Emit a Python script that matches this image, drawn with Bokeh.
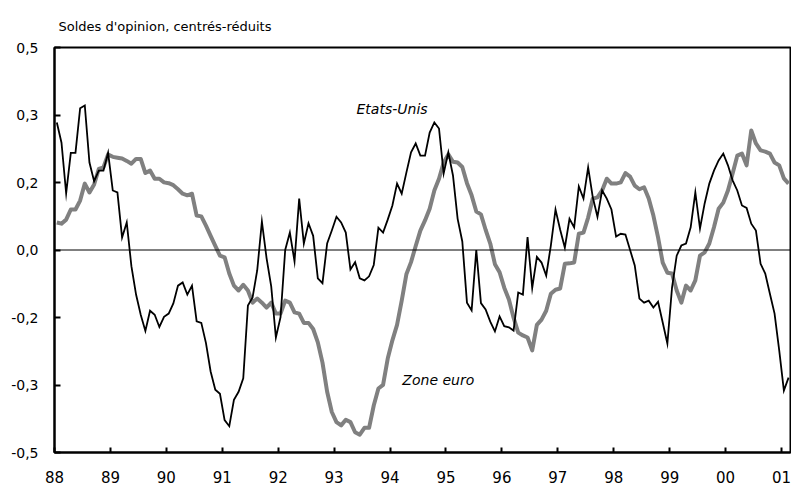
from bokeh.plotting import figure
from bokeh.models import Range1d, FixedTicker, Span, Label, ColumnDataSource
from bokeh.embed import file_html
from bokeh.resources import INLINE

# ---- data (monthly, Jan 1988 .. Feb 2001) ----
start_year = 1988
etats_unis = [
    0.315, 0.265, 0.14, 0.24, 0.24, 0.35, 0.357, 0.216, 0.17, 0.196, 0.196, 0.24,        # 1988
    0.147, 0.142, 0.031, 0.068, -0.04, -0.11, -0.16, -0.20, -0.15, -0.16, -0.19, -0.165,  # 1989
    -0.157, -0.132, -0.088, -0.08, -0.11, -0.088, -0.176, -0.18, -0.23, -0.30, -0.345, -0.355,  # 1990
    -0.42, -0.435, -0.37, -0.35, -0.317, -0.137, -0.117, -0.05, 0.07, -0.02, -0.09, -0.216,  # 1991
    -0.166, 0.0, 0.043, -0.028, 0.127, 0.016, 0.066, 0.035, -0.07, -0.082, 0.016, 0.048,  # 1992
    0.082, 0.068, 0.043, -0.048, -0.03, -0.07, -0.075, -0.065, -0.037, 0.055, 0.043, 0.075,  # 1993
    0.11, 0.164, 0.139, 0.191, 0.241, 0.263, 0.233, 0.233, 0.29, 0.315, 0.3, 0.189,  # 1994
    0.241, 0.184, 0.077, 0.021, -0.13, -0.149, 0.0, -0.131, -0.147, -0.177, -0.201, -0.164,  # 1995
    -0.188, -0.191, -0.199, -0.105, -0.11, 0.032, -0.094, -0.017, -0.031, -0.063, 0.011, 0.1,  # 1996
    0.05, 0.006, 0.077, 0.056, 0.157, 0.127, 0.204, 0.13, 0.082, 0.147, 0.127, 0.1,  # 1997
    0.033, 0.04, 0.038, 0.0, -0.038, -0.12, -0.13, -0.125, -0.142, -0.128, -0.179, -0.231,  # 1998
    -0.093, -0.014, 0.011, 0.016, 0.056, 0.142, 0.053, 0.115, 0.164, 0.196, 0.221, 0.238,  # 1999
    0.209, 0.172, 0.147, 0.11, 0.104, 0.065, 0.048, -0.034, -0.058, -0.108, -0.157, -0.248,  # 2000
    -0.347, -0.315,  # 2001
]
zone_euro = [
    0.068, 0.065, 0.075, 0.1, 0.1, 0.122, 0.164, 0.142, 0.162, 0.2, 0.204, 0.236,  # 1988
    0.23, 0.228, 0.226, 0.22, 0.213, 0.225, 0.225, 0.19, 0.196, 0.176, 0.176, 0.167,  # 1989
    0.165, 0.16, 0.15, 0.139, 0.135, 0.139, 0.085, 0.083, 0.06, 0.035, 0.01, -0.014,  # 1990
    -0.018, -0.058, -0.088, -0.1, -0.086, -0.1, -0.13, -0.12, -0.13, -0.142, -0.13, -0.157,  # 1991
    -0.157, -0.125, -0.13, -0.154, -0.157, -0.18, -0.18, -0.195, -0.228, -0.278, -0.35, -0.40,  # 1992
    -0.425, -0.433, -0.419, -0.425, -0.45, -0.456, -0.439, -0.439, -0.384, -0.342, -0.333, -0.268,  # 1993
    -0.223, -0.185, -0.125, -0.06, -0.03, 0.01, 0.048, 0.073, 0.102, 0.147, 0.176, 0.216,  # 1994
    0.236, 0.218, 0.216, 0.205, 0.165, 0.135, 0.095, 0.088, 0.05, 0.016, -0.035, -0.055,  # 1995
    -0.093, -0.122, -0.167, -0.204, -0.211, -0.216, -0.248, -0.185, -0.172, -0.15, -0.108, -0.098,  # 1996
    -0.095, -0.034, -0.033, -0.031, 0.04, 0.043, 0.08, 0.127, 0.13, 0.147, 0.176, 0.164,  # 1997
    0.164, 0.167, 0.19, 0.181, 0.159, 0.15, 0.155, 0.127, 0.085, 0.031, -0.031, -0.056,  # 1998
    -0.058, -0.1, -0.13, -0.088, -0.1, -0.075, -0.014, -0.006, 0.016, 0.056, 0.102, 0.117,  # 1999
    0.147, 0.189, 0.233, 0.238, 0.209, 0.295, 0.263, 0.246, 0.243, 0.238, 0.216, 0.209,  # 2000
    0.177, 0.164,  # 2001
]
x_ticks = list(range(1988, 2002))
x_tick_labels = ["88", "89", "90", "91", "92", "93", "94", "95", "96", "97", "98", "99", "00", "01"]
y_ticks = [-0.5, -1/3, -1/6, 0, 1/6, 1/3, 0.5]
y_tick_labels = ["-0,5", "-0,3", "-0,2", "0,0", "0,2", "0,3", "0,5"]
title_text = "Soldes d'opinion, centrés-réduits"
label_us = "Etats-Unis"
label_eu = "Zone euro"

# month centres as decimal years
months = [start_year + (i + 0.5) / 12 for i in range(len(etats_unis))]
src = ColumnDataSource(dict(x=months, us=etats_unis, eu=zone_euro))

FONT = "DejaVu Sans"

p = figure(width=791, height=486, output_backend="svg", toolbar_location=None,
           x_range=Range1d(1988, 2001.16), y_range=Range1d(-0.5, 0.5),
           min_border_left=54, min_border_right=1, min_border_top=47, min_border_bottom=34)

p.title.text = title_text
p.title.text_font = FONT
p.title.text_font_size = "13px"
p.title.text_font_style = "normal"
p.title.text_color = "black"
p.title.align = "left"
p.title.offset = 4
p.title.standoff = 27

p.grid.visible = False
p.outline_line_color = "black"
p.outline_line_width = 2
p.background_fill_color = "white"
p.border_fill_color = "white"

# x axis
p.xaxis.ticker = FixedTicker(ticks=x_ticks, minor_ticks=[])
p.xaxis.major_label_overrides = {t: l for t, l in zip(x_ticks, x_tick_labels)}
p.xaxis.major_tick_in = 5
p.xaxis.major_tick_out = 0
p.xaxis.major_label_standoff = 18
p.xaxis.major_label_text_font = FONT
p.xaxis.major_label_text_font_size = "15px"

# y axis
p.yaxis.ticker = FixedTicker(ticks=y_ticks, minor_ticks=[])
p.yaxis.major_label_overrides = {t: l for t, l in zip(y_ticks, y_tick_labels)}
p.yaxis.major_tick_in = 6
p.yaxis.major_tick_out = 0
p.yaxis.major_label_standoff = 16
p.yaxis.major_label_text_font = FONT
p.yaxis.major_label_text_font_size = "14px"

for ax in (p.xaxis, p.yaxis):
    ax.axis_line_color = "black"
    ax.axis_line_width = 2
    ax.major_tick_line_color = "black"
    ax.major_tick_line_width = 2
    ax.minor_tick_line_color = None
    ax.major_label_text_color = "black"

p.add_layout(Span(location=0, dimension="width", line_color="black", line_width=1))

p.line("x", "eu", source=src, line_color="#808080", line_width=4, line_join="round")
p.line("x", "us", source=src, line_color="black", line_width=1.8, line_join="miter")

p.add_layout(Label(x=1993.40, y=0.347, text=label_us, text_font=FONT, text_font_size="14px",
                   text_font_style="italic", text_baseline="middle", text_color="black"))
p.add_layout(Label(x=1994.22, y=-0.32, text=label_eu, text_font=FONT, text_font_size="14px",
                   text_font_style="italic", text_baseline="middle", text_color="black"))

open("out.html", "w").write(file_html(p, INLINE))
